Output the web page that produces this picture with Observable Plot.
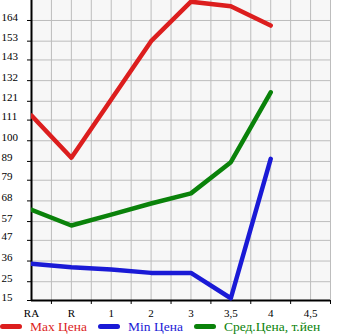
<!DOCTYPE html>
<html><head><meta charset="utf-8">
<script src="https://cdn.jsdelivr.net/npm/d3@7"></script>
<script src="https://cdn.jsdelivr.net/npm/@observablehq/plot@0.6"></script>
<style>
body{margin:0;background:#fff;font-family:"Liberation Serif","Times New Roman",serif;}
#legend{display:flex;align-items:center;height:17px;font-size:13.5px;white-space:nowrap;}
.sw{display:inline-block;width:22px;height:5px;border-radius:3px;margin-right:8px;}
.it{display:flex;align-items:center;margin-right:11px;}
</style></head><body><div id="chart"></div><div id="legend"></div>
<script>
const categories = ["RA","R","1","2","3","3,5","4","4,5"];
const yTicks = [15,25,36,47,57,68,79,89,100,111,121,132,143,153,164];
const maxVals = [113.4, 91, 122, 153, 174, 171.6, 161.3];
const minVals = [34.5, 32.7, 31.5, 29.7, 29.7, 16.2, 90.4];
const avgVals = [63.3, 54.9, 60.7, 66.6, 72, 88.6, 125.8];
const seriesNames = ["Max Цена","Min Цена","Сред.Цена, т.йен"];
const seriesColors = ["#dc1e1e","#1a1ad6","#0a820a"];

const allVals = [maxVals, minVals, avgVals];
const rows = [];
allVals.forEach((vals, s) => vals.forEach((v, i) => rows.push({s: seriesNames[s], i, v})));

const idx = d3.range(categories.length);
const mids = idx.map(i => i + 0.5);
const xMax = categories.length - 0.5;
const xGrid = d3.range(0, categories.length * 2).map(k => k / 2);
const yMin = yTicks[0];
const yTop = 174.64;
const plotH = 300, H = 318;
const k = (yTop - yMin) / plotH;          // data units per pixel
const yBottom = yMin - (H - plotH) * k;   // extend domain into label band

const chart = Plot.plot({
  width: 345, height: H,
  marginLeft: 31, marginRight: 15, marginTop: 0, marginBottom: 0,
  x: {domain: [0, xMax], axis: null},
  y: {domain: [yBottom, yTop], axis: null},
  style: {fontFamily: '"Liberation Serif","Times New Roman",serif', fontSize: "11px", color: "black", background: "transparent", overflow: "visible"},
  marks: [
    Plot.rect([0], {x1: 0, x2: xMax, y1: yMin, y2: yTop, fill: "#f7f7f7"}),
    Plot.ruleX(xGrid, {x: d => d, y1: yMin, y2: yTop, stroke: "#bdbdbd"}),
    Plot.ruleY(yTicks, {y: d => d, x1: 0, x2: xMax, stroke: "#bdbdbd"}),
    Plot.ruleY(yTicks, {y: d => d, x1: 0, x2: 0, insetLeft: -4, stroke: "black"}),
    Plot.text(yTicks, {y: d => d, frameAnchor: "left", text: d => String(d), textAnchor: "start", dx: -30, dy: -3.5, fill: "black"}),
    Plot.ruleX(mids, {x: d => d, y1: yMin, y2: yMin - 4 * k, stroke: "black"}),
    Plot.text(idx, {x: d => d, y: () => yMin - 12.5 * k, text: i => categories[i], fill: "black"}),
    Plot.ruleX([0], {x: d => d, y1: yMin, y2: yTop, stroke: "black", strokeWidth: 2}),
    Plot.ruleY([yMin], {y: d => d, x1: 0, x2: xMax, stroke: "black", strokeWidth: 2}),
    Plot.line(rows, {x: "i", y: "v", z: "s", stroke: "s", strokeWidth: 4.5, strokeLinecap: "round", strokeLinejoin: "round", clip: true})
  ],
  color: {domain: seriesNames, range: seriesColors}
});
document.getElementById("chart").appendChild(chart);

const leg = document.getElementById("legend");
seriesNames.forEach((n, i) => {
  const it = document.createElement("div");
  it.className = "it";
  it.innerHTML = `<span class="sw" style="background:${seriesColors[i]}"></span><span style="color:${seriesColors[i]}">${n}</span>`;
  leg.appendChild(it);
});
</script>
</body></html>
